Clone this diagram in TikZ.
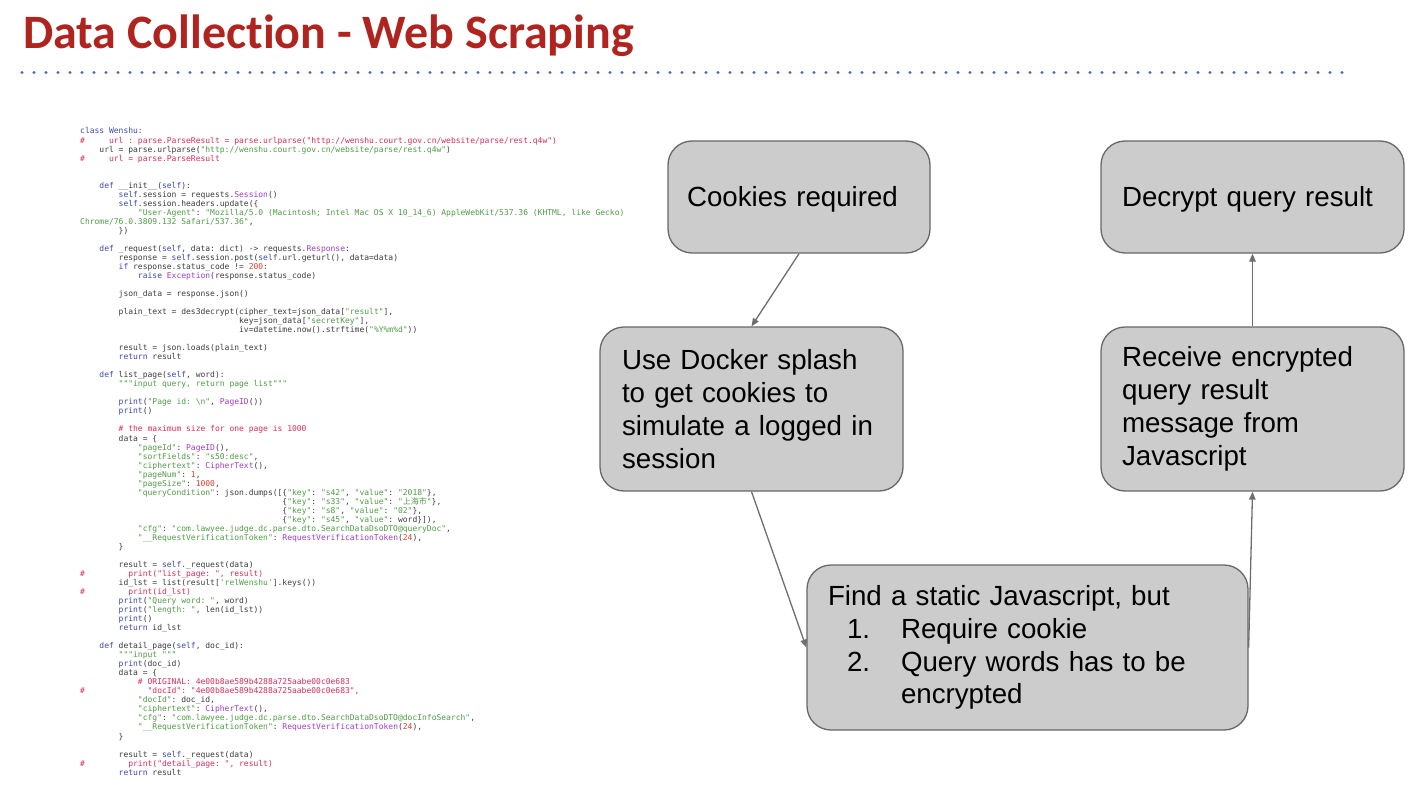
\documentclass[tikz,border=0pt]{standalone}
\usepackage{fontspec}
\usetikzlibrary{arrows.meta}
\setmainfont{Liberation Sans}
\setmonofont{DejaVu Sans Mono}
\newfontfamily\titlefont[Ligatures=NoCommon]{Carlito}
\newfontfamily\cjk{Noto Sans CJK SC}
\definecolor{titlered}{RGB}{176,36,31}
\definecolor{dotblue}{RGB}{61,111,184}
\definecolor{boxfill}{RGB}{204,204,204}
\definecolor{boxborder}{RGB}{104,104,104}
\definecolor{arrowgray}{RGB}{110,110,110}
\definecolor{codegray}{RGB}{60,60,60}
\definecolor{ckw}{RGB}{60,70,175}
\definecolor{cst}{RGB}{80,155,70}
\definecolor{ccm}{RGB}{215,45,90}
\definecolor{cnu}{RGB}{220,60,45}
\definecolor{ccl}{RGB}{160,60,200}
\newcommand\cKw[1]{\textcolor{ckw}{#1}}
\newcommand\cSt[1]{\textcolor{cst}{#1}}
\newcommand\cCm[1]{\textcolor{ccm}{#1}}
\newcommand\cNu[1]{\textcolor{cnu}{#1}}
\newcommand\cCl[1]{\textcolor{ccl}{#1}}
\newcommand\Ind[1]{\hspace*{#1\fontcharwd\font`0}}
\newcommand\codeline[1]{\hbox{#1}}
\begin{document}
\begin{tikzpicture}[x=1pt,y=-1pt,
  box/.style={draw=boxborder, fill=boxfill, line width=1.3pt, rounded corners=24pt,
    font=\fontsize{27.7}{32.8}\selectfont, align=left, inner ysep=0pt, text=black},
  oneline/.style={text height=20pt, text depth=1pt},
  conn/.style={draw=arrowgray, line width=1.3pt, -{Triangle[length=8pt,width=6.5pt]}},
  codestyle/.style={inner sep=0pt, anchor=base west, text=codegray,
    font=\fontsize{8}{9.03}\selectfont\ttfamily},
  titlestyle/.style={inner sep=0pt, anchor=base west, text=titlered,
    font=\titlefont\bfseries\fontsize{48}{52}\selectfont}]
\useasboundingbox (0,0) rectangle (1412,786);

% title
\node[titlestyle] (title) at (23,49) {Data Collection - Web Scraping};
\foreach \i in {0,...,110} \fill[dotblue] (22+12*\i,72.5) circle (1.6);

% code
\node[codestyle] (code) at (80,134) {\vtop{\baselineskip=9.03pt\lineskiplimit=-100pt\lineskip=0pt
\codeline{\cKw{class Wenshu:}}
\codeline{\cCm{\#\Ind{5}url : parse.ParseResult = parse.urlparse("http://wenshu.court.gov.cn/website/parse/rest.q4w")}}
\codeline{\Ind{4}url = parse.urlparse(\cSt{"http://wenshu.court.gov.cn/website/parse/rest.q4w"})}
\codeline{\cCm{\#\Ind{5}url = parse.ParseResult}}
\codeline{}
\codeline{}
\codeline{\Ind{4}\cKw{def} \_\_init\_\_(\cKw{self}):}
\codeline{\Ind{8}\cKw{self}.session = requests.\cCl{Session}()}
\codeline{\Ind{8}\cKw{self}.session.headers.update(\{}
\codeline{\Ind{12}\cSt{"User-Agent"}: \cSt{"Mozilla/5.0 (Macintosh; Intel Mac OS X 10\_14\_6) AppleWebKit/537.36 (KHTML, like Gecko)}}
\codeline{\cSt{Chrome/76.0.3809.132 Safari/537.36"},}
\codeline{\Ind{8}\})}
\codeline{}
\codeline{\Ind{4}\cKw{def} \_request(\cKw{self}, data: dict) -> requests.\cCl{Response}:}
\codeline{\Ind{8}response = \cKw{self}.session.post(\cKw{self}.url.geturl(), data=data)}
\codeline{\Ind{8}\cKw{if} response.status\_code != \cNu{200}:}
\codeline{\Ind{12}\cKw{raise} \cCl{Exception}(response.status\_code)}
\codeline{}
\codeline{\Ind{8}json\_data = response.json()}
\codeline{}
\codeline{\Ind{8}plain\_text = des3decrypt(cipher\_text=json\_data[\cSt{"result"}],}
\codeline{\Ind{33}key=json\_data[\cSt{"secretKey"}],}
\codeline{\Ind{33}iv=datetime.now().strftime(\cSt{"\%Y\%m\%d"}))}
\codeline{}
\codeline{\Ind{8}result = json.loads(plain\_text)}
\codeline{\Ind{8}\cKw{return} result}
\codeline{}
\codeline{\Ind{4}\cKw{def} list\_page(\cKw{self}, word):}
\codeline{\Ind{8}\cSt{"""input query, return page list"""}}
\codeline{}
\codeline{\Ind{8}\cKw{print}(\cSt{"Page id: \textbackslash n"}, \cCl{PageID}())}
\codeline{\Ind{8}\cKw{print}()}
\codeline{}
\codeline{\Ind{8}\cCm{\# the maximum size for one page is 1000}}
\codeline{\Ind{8}data = \{}
\codeline{\Ind{12}\cSt{"pageId"}: \cCl{PageID}(),}
\codeline{\Ind{12}\cSt{"sortFields"}: \cSt{"s50:desc"},}
\codeline{\Ind{12}\cSt{"ciphertext"}: \cCl{CipherText}(),}
\codeline{\Ind{12}\cSt{"pageNum"}: \cNu{1},}
\codeline{\Ind{12}\cSt{"pageSize"}: \cNu{1000},}
\codeline{\Ind{12}\cSt{"queryCondition"}: json.dumps([\{\cSt{"key"}: \cSt{"s42"}, \cSt{"value"}: \cSt{"2018"}\},}
\codeline{\Ind{42}\{\cSt{"key"}: \cSt{"s33"}, \cSt{"value"}: \cSt{"{\cjk 上海市}"}\},}
\codeline{\Ind{42}\{\cSt{"key"}: \cSt{"s8"}, \cSt{"value"}: \cSt{"02"}\},}
\codeline{\Ind{42}\{\cSt{"key"}: \cSt{"s45"}, \cSt{"value"}: word\}]),}
\codeline{\Ind{12}\cSt{"cfg"}: \cSt{"com.lawyee.judge.dc.parse.dto.SearchDataDsoDTO@queryDoc"},}
\codeline{\Ind{12}\cSt{"\_\_RequestVerificationToken"}: \cCl{RequestVerificationToken}(\cNu{24}),}
\codeline{\Ind{8}\}}
\codeline{}
\codeline{\Ind{8}result = \cKw{self}.\_request(data)}
\codeline{\cCm{\#\Ind{9}print("list\_page: ", result)}}
\codeline{\Ind{8}id\_lst = list(result[\cSt{'relWenshu'}].keys())}
\codeline{\cCm{\#\Ind{9}print(id\_lst)}}
\codeline{\Ind{8}\cKw{print}(\cSt{"Query word: "}, word)}
\codeline{\Ind{8}\cKw{print}(\cSt{"length: "}, len(id\_lst))}
\codeline{\Ind{8}\cKw{print}()}
\codeline{\Ind{8}\cKw{return} id\_lst}
\codeline{}
\codeline{\Ind{4}\cKw{def} detail\_page(\cKw{self}, doc\_id):}
\codeline{\Ind{8}\cSt{"""input """}}
\codeline{\Ind{8}\cKw{print}(doc\_id)}
\codeline{\Ind{8}data = \{}
\codeline{\Ind{12}\cCm{\# ORIGINAL: 4e00b8ae589b4288a725aabe00c0e683}}
\codeline{\cCm{\#\Ind{13}"docId": "4e00b8ae589b4288a725aabe00c0e683",}}
\codeline{\Ind{12}\cSt{"docId"}: doc\_id,}
\codeline{\Ind{12}\cSt{"ciphertext"}: \cCl{CipherText}(),}
\codeline{\Ind{12}\cSt{"cfg"}: \cSt{"com.lawyee.judge.dc.parse.dto.SearchDataDsoDTO@docInfoSearch"},}
\codeline{\Ind{12}\cSt{"\_\_RequestVerificationToken"}: \cCl{RequestVerificationToken}(\cNu{24}),}
\codeline{\Ind{8}\}}
\codeline{}
\codeline{\Ind{8}result = \cKw{self}.\_request(data)}
\codeline{\cCm{\#\Ind{9}print("detail\_page: ", result)}}
\codeline{\Ind{8}\cKw{return} result}
}};

% flow boxes
\node[box, oneline, minimum width=262pt, minimum height=112pt, inner xsep=19pt, text width=224pt] (A) at (799,197) {Cookies required};
\node[box, minimum width=303pt, minimum height=164pt, inner xsep=22pt, text width=259pt] (B) at (751.5,409)
  {Use Docker splash\\to get cookies to\\simulate a logged in\\session};
\node[box, oneline, minimum width=303pt, minimum height=112pt, inner xsep=21pt, text width=261pt] (C) at (1252.5,197) {Decrypt query result};
\node[box, minimum width=303pt, minimum height=164pt, inner xsep=21pt, text width=261pt] (D) at (1252.5,409)
  {Receive encrypted\\query result\\message from\\Javascript};
\node[box, minimum width=441pt, minimum height=165pt, inner xsep=21pt, text width=399pt] (E) at (1027.5,647.5)
  {Find a static Javascript, but\\
   \hspace*{19pt}\makebox[54pt][l]{1.}Require cookie\\
   \hspace*{19pt}\makebox[54pt][l]{2.}Query words has to be\\
   \hspace*{73pt}encrypted};

% connectors
\draw[conn] (A.south) -- (B.north);
\draw[conn] (B.south) -- (E.west);
\draw[conn] (E.east) -- (D.south);
\draw[conn] (D.north) -- (C.south);
\end{tikzpicture}
\end{document}
